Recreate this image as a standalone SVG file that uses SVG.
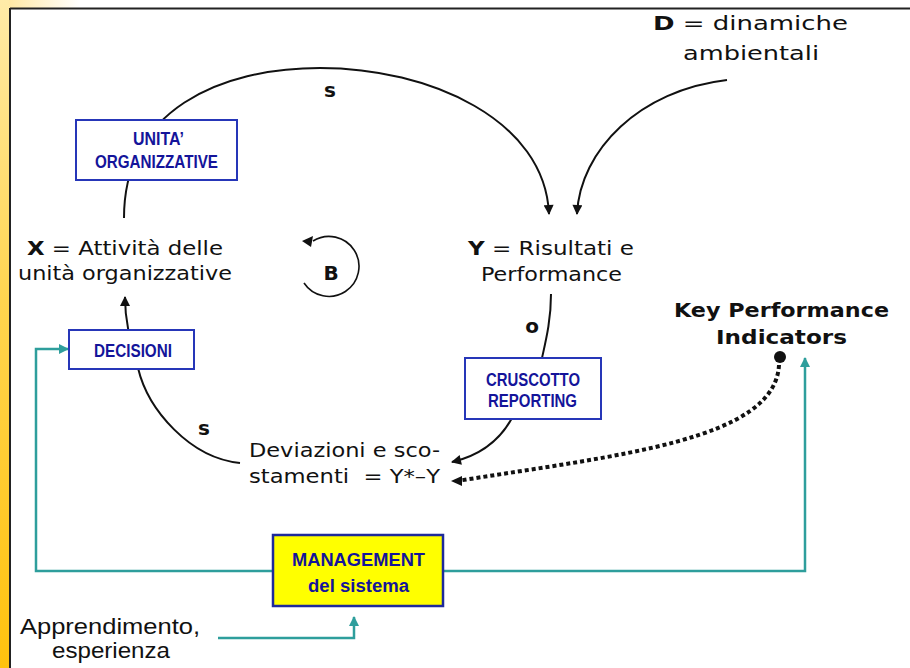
<svg xmlns="http://www.w3.org/2000/svg" width="910" height="668" viewBox="0 0 910 668">
<defs>
<linearGradient id="gl" x1="0" y1="0" x2="0" y2="1">
<stop offset="0" stop-color="#FFEBA8"/>
<stop offset="0.45" stop-color="#FFD54F"/>
<stop offset="1" stop-color="#FFC20E"/>
</linearGradient>
<linearGradient id="gt" x1="0" y1="0" x2="1" y2="0">
<stop offset="0" stop-color="#FFE69A"/>
<stop offset="1" stop-color="#FFFFFF"/>
</linearGradient>
<marker id="ab" viewBox="0 0 10 10" refX="9" refY="5" markerWidth="11" markerHeight="10" markerUnits="userSpaceOnUse" orient="auto">
<path d="M0,0 L10,5 L0,10 Z" fill="#111"/>
</marker>
<marker id="at" viewBox="0 0 10 10" refX="9" refY="5" markerWidth="10" markerHeight="10" markerUnits="userSpaceOnUse" orient="auto">
<path d="M0,0 L10,5 L0,10 Z" fill="#2E9E9C"/>
</marker>
</defs>
<style>
.lbl{font-family:"DejaVu Sans",Verdana,sans-serif;font-size:20px;fill:#111}
.b{font-weight:bold}
.box{fill:#fff;stroke:#2636B8;stroke-width:2}
.bt{font-family:"Liberation Sans",Arial,sans-serif;font-weight:bold;font-size:18px;fill:#14149A}
.cur{fill:none;stroke:#111;stroke-width:2}
.teal{fill:none;stroke:#2E9E9C;stroke-width:2.5}
.nar{font-family:"Liberation Sans",Arial,sans-serif;font-size:22px;fill:#111}
</style>
<rect x="0" y="0" width="910" height="668" fill="#fff"/>
<rect x="0" y="0" width="80" height="8" fill="url(#gt)"/>
<rect x="0" y="0" width="9" height="668" fill="url(#gl)"/>
<line x1="10" y1="8.5" x2="910" y2="8.5" stroke="#222" stroke-width="2"/>
<line x1="10" y1="8" x2="10" y2="668" stroke="#222" stroke-width="2"/>

<g id="connectors">
<path class="cur" d="M124,218 C124,110 220,68 320,68 C430,68 545,120 549,214" marker-end="url(#ab)"/>
<path class="cur" d="M727,80 C640,90 580,150 577,214" marker-end="url(#ab)"/>
<path class="cur" d="M551,294 C551,320 546,340 542,358"/>
<path class="cur" d="M512,418 C500,440 482,455 452,462" marker-end="url(#ab)"/>
<path class="cur" d="M240,463 C190,458 148,410 138,368 C132,345 125,325 125,297" marker-end="url(#ab)"/>
<path d="M779,365 C775,440 620,455 457,481" fill="none" stroke="#111" stroke-width="4" stroke-dasharray="4,3"/>
<path d="M462,476 L451,481 L462,486 Z" fill="#111"/>
<circle cx="780" cy="357" r="6" fill="#111"/>
<path class="teal" d="M273,571 L36,571 L36,349 L68,349" marker-end="url(#at)"/>
<path class="teal" d="M443,571 L805,571 L805,358" marker-end="url(#at)"/>
<path class="teal" d="M218,638 L354,638 L354,617" marker-end="url(#at)"/>
</g>

<g id="loopB">
<path d="M304,283 A30,30 0 1 0 313,241" fill="none" stroke="#111" stroke-width="1.6"/>
<path d="M313,236 L302,241 L311,247 Z" fill="#111"/>
<text class="lbl b" x="331" y="280" font-size="28" text-anchor="middle">B</text>
</g>

<g id="labels">
<text class="lbl b" x="330" y="97" text-anchor="middle">s</text>
<text class="lbl b" x="204" y="435" text-anchor="middle">s</text>
<text class="lbl b" x="532" y="333" text-anchor="middle">o</text>
</g>

<g id="nodeD">
<text class="lbl" x="653" y="30" font-size="22" textLength="195" lengthAdjust="spacingAndGlyphs"><tspan class="b">D</tspan> = dinamiche</text>
<text class="lbl" x="683" y="60" font-size="22" textLength="136" lengthAdjust="spacingAndGlyphs">ambientali</text>
</g>

<g id="nodeX">
<text class="lbl" x="27" y="255" textLength="196" lengthAdjust="spacingAndGlyphs"><tspan class="b">X</tspan> = Attività delle</text>
<text class="lbl" x="18" y="280" textLength="214" lengthAdjust="spacingAndGlyphs">unità organizzative</text>
</g>

<g id="nodeY">
<text class="lbl" x="468" y="255" textLength="166" lengthAdjust="spacingAndGlyphs"><tspan class="b">Y</tspan> = Risultati e</text>
<text class="lbl" x="481" y="281" textLength="141" lengthAdjust="spacingAndGlyphs">Performance</text>
</g>

<g id="nodeDev">
<text class="lbl" x="249" y="457" textLength="191" lengthAdjust="spacingAndGlyphs">Deviazioni e sco-</text>
<text class="lbl" x="249" y="483" textLength="191" lengthAdjust="spacingAndGlyphs" xml:space="preserve">stamenti  = Y*–Y</text>
</g>

<g id="nodeKPI">
<text class="lbl b" x="674" y="317" textLength="215" lengthAdjust="spacingAndGlyphs">Key Performance</text>
<text class="lbl b" x="716" y="344" textLength="131" lengthAdjust="spacingAndGlyphs">Indicators</text>
</g>

<g id="nodeUnita">
<rect class="box" x="76" y="120" width="161" height="60"/>
<text class="bt" x="133" y="145" textLength="51" lengthAdjust="spacingAndGlyphs">UNITA’</text>
<text class="bt" x="95" y="168" textLength="123" lengthAdjust="spacingAndGlyphs">ORGANIZZATIVE</text>
</g>

<g id="nodeDecisioni">
<rect class="box" x="69" y="330" width="125" height="39"/>
<text class="bt" x="94" y="357" font-size="19" textLength="78" lengthAdjust="spacingAndGlyphs">DECISIONI</text>
</g>

<g id="nodeCruscotto">
<rect class="box" x="465" y="358" width="136" height="61"/>
<text class="bt" x="486" y="386" textLength="94" lengthAdjust="spacingAndGlyphs">CRUSCOTTO</text>
<text class="bt" x="488" y="407" textLength="89" lengthAdjust="spacingAndGlyphs">REPORTING</text>
</g>

<g id="nodeManagement">
<rect x="273" y="535" width="170" height="71" fill="#FFFF00" stroke="#1E2A9A" stroke-width="2.5"/>
<text class="bt" x="292" y="566" fill="#15157A" font-size="21" textLength="133" lengthAdjust="spacingAndGlyphs">MANAGEMENT</text>
<text class="bt" x="308" y="592" fill="#15157A" font-size="20" textLength="101" lengthAdjust="spacingAndGlyphs">del sistema</text>
</g>

<g id="nodeApprendimento">
<text class="nar" x="20" y="634" textLength="180" lengthAdjust="spacingAndGlyphs">Apprendimento,</text>
<text class="nar" x="52" y="658" textLength="118" lengthAdjust="spacingAndGlyphs">esperienza</text>
</g>
</svg>
